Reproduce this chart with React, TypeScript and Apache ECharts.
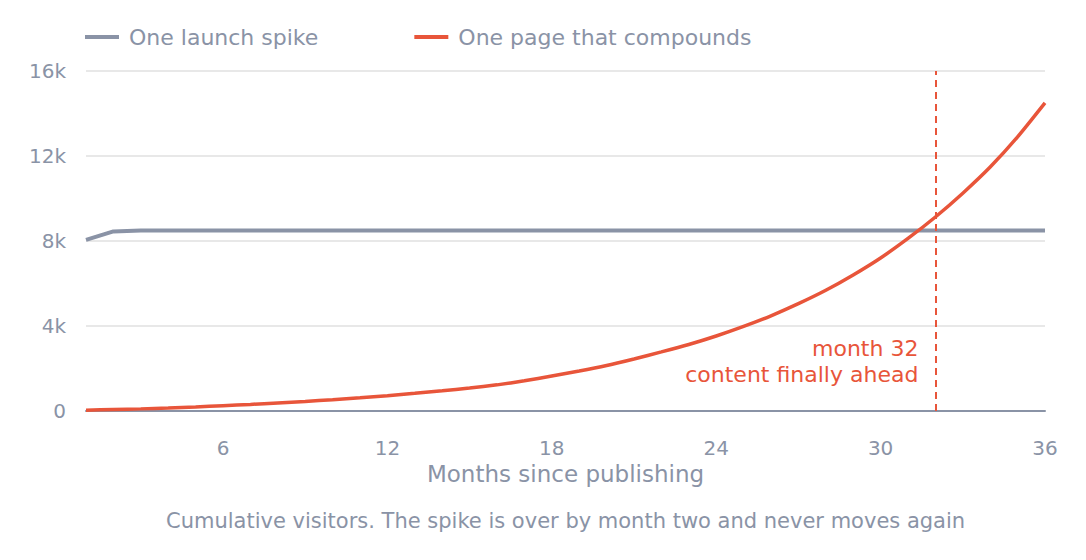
import * as echarts from "echarts";
import { useEffect, useRef } from "react";

const months = Array.from({ length: 36 }, (_, i) => String(i + 1));

// one-off launch spike, flat after month two
const spikeVisitors = [
  8050, 8450, 8490, 8490, 8490, 8490, 8490, 8490, 8490, 8490, 8490, 8490,
  8490, 8490, 8490, 8490, 8490, 8490, 8490, 8490, 8490, 8490, 8490, 8490,
  8490, 8490, 8490, 8490, 8490, 8490, 8490, 8490, 8490, 8490, 8490, 8490,
];

// compounding page, cumulative
const compoundVisitors = [
  40, 70, 100, 140, 190, 250, 310, 380, 450, 530, 620, 720,
  830, 950, 1080, 1230, 1420, 1650, 1880, 2140, 2450, 2780, 3130, 3530,
  3980, 4480, 5050, 5680, 6400, 7200, 8120, 9130, 10250, 11480, 12900, 14500,
];

const yTicks = [0, 4000, 8000, 12000, 16000];

const GRAY = "#8a93a6";
const RED = "#e8553a";
const FONT = "DejaVu Sans";

export default function App() {
  const chartRef = useRef<HTMLDivElement>(null);

  useEffect(() => {
    document.body.style.margin = "0";
    if (!chartRef.current) return;
    const chart = echarts.init(chartRef.current, null, { renderer: "svg" });

    chart.setOption({
      animation: false,
      textStyle: { fontFamily: FONT },
      title: {
        text: "Cumulative visitors. The spike is over by month two and never moves again",
        left: 161,
        top: 505,
        textStyle: { color: GRAY, fontSize: 21, fontWeight: "normal", fontFamily: FONT },
      },
      legend: {
        left: 80,
        top: 21,
        icon: "rect",
        itemWidth: 34,
        itemHeight: 4,
        itemGap: 96,
        textStyle: { color: GRAY, fontSize: 22, fontFamily: FONT, padding: [0, 0, 0, 5] },
      },
      grid: { left: 86, right: 41, top: 71, bottom: 149 },
      xAxis: {
        type: "category",
        data: months,
        boundaryGap: false,
        name: "Months since publishing",
        nameLocation: "middle",
        nameGap: 50,
        nameTextStyle: { color: GRAY, fontSize: 23, fontFamily: FONT },
        axisLine: { lineStyle: { color: GRAY, width: 2 } },
        axisTick: { show: false },
        axisLabel: {
          color: GRAY,
          fontSize: 20,
          margin: 27,
          interval: (_i: number, v: string) => Number(v) % 6 === 0,
        },
        splitLine: { show: false },
      },
      yAxis: {
        type: "value",
        min: yTicks[0],
        max: yTicks[yTicks.length - 1],
        interval: 4000,
        axisLine: { show: false },
        axisTick: { show: false },
        axisLabel: {
          color: GRAY,
          fontSize: 20,
          margin: 20,
          formatter: (v: number) => (v === 0 ? "0" : v / 1000 + "k"),
        },
        splitLine: { lineStyle: { color: "#e8e8e8", width: 2 } },
      },
      series: [
        {
          name: "One launch spike",
          type: "line",
          data: spikeVisitors,
          showSymbol: false,
          itemStyle: { color: GRAY },
          lineStyle: { color: GRAY, width: 4 },
        },
        {
          name: "One page that compounds",
          type: "line",
          data: compoundVisitors,
          showSymbol: false,
          smooth: 0.2,
          itemStyle: { color: RED },
          lineStyle: { color: RED, width: 3.5 },
          markLine: {
            silent: true,
            symbol: "none",
            label: { show: false },
            lineStyle: { color: RED, type: [7, 5], width: 2 },
            data: [{ xAxis: "32" }],
          },
          markPoint: {
            silent: true,
            symbol: "circle",
            symbolSize: 0,
            data: [{ coord: ["32", 2350] }],
            label: {
              show: true,
              position: "left",
              distance: 17,
              align: "right",
              color: RED,
              fontSize: 22,
              lineHeight: 26,
              fontFamily: FONT,
              formatter: "month 32\ncontent finally ahead",
            },
          },
        },
      ],
    });

    return () => chart.dispose();
  }, []);

  return <div ref={chartRef} style={{ width: 1086, height: 560 }} />;
}
